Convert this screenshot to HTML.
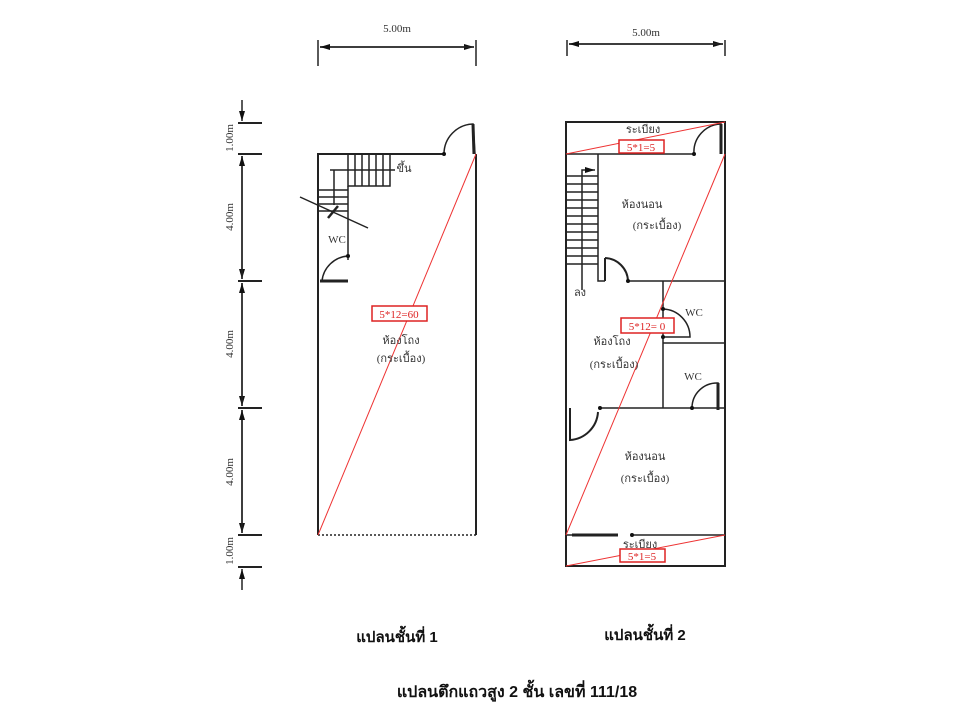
<!DOCTYPE html>
<html><head><meta charset="utf-8"><style>
html,body{margin:0;padding:0;background:#fff;width:960px;height:720px;overflow:hidden}
svg{display:block}
text{font-family:"Liberation Serif","DejaVu Serif",serif;fill:#333}
.b{font-family:"Liberation Sans","DejaVu Sans",sans-serif;font-weight:bold;fill:#111}
</style></head><body>
<svg width="960" height="720" viewBox="0 0 960 720" xmlns="http://www.w3.org/2000/svg">
<defs>
<marker id="a" markerWidth="10" markerHeight="6" refX="10" refY="3" orient="auto" markerUnits="userSpaceOnUse"><path d="M0,0 L10,3 L0,6z" fill="#111"/></marker>
</defs>
<g stroke="#222" stroke-width="1.5" fill="none">
<line x1="318" y1="40" x2="318" y2="66"/><line x1="476" y1="40" x2="476" y2="66"/>
<line x1="320" y1="47" x2="474" y2="47" marker-end="url(#a)"/>
<line x1="474" y1="47" x2="320" y2="47" marker-end="url(#a)"/>
<line x1="567" y1="40" x2="567" y2="56"/><line x1="725" y1="40" x2="725" y2="56"/>
<line x1="569" y1="44" x2="723" y2="44" marker-end="url(#a)"/>
<line x1="723" y1="44" x2="569" y2="44" marker-end="url(#a)"/>
<g stroke-width="2">
<line x1="238" y1="123" x2="262" y2="123"/><line x1="238" y1="154" x2="262" y2="154"/>
<line x1="238" y1="281" x2="262" y2="281"/><line x1="238" y1="408" x2="262" y2="408"/>
<line x1="238" y1="535" x2="262" y2="535"/><line x1="238" y1="567" x2="262" y2="567"/>
</g>
<line x1="242" y1="100" x2="242" y2="121" marker-end="url(#a)"/>
<line x1="242" y1="156" x2="242" y2="279" marker-end="url(#a)"/><line x1="242" y1="279" x2="242" y2="156" marker-end="url(#a)"/>
<line x1="242" y1="283" x2="242" y2="406" marker-end="url(#a)"/><line x1="242" y1="406" x2="242" y2="283" marker-end="url(#a)"/>
<line x1="242" y1="410" x2="242" y2="533" marker-end="url(#a)"/><line x1="242" y1="533" x2="242" y2="410" marker-end="url(#a)"/>
<line x1="242" y1="590" x2="242" y2="569" marker-end="url(#a)"/>
<path d="M444,154 L318,154 L318,535 M476,154 L476,535" stroke-width="2"/>
<line x1="318" y1="535" x2="476" y2="535" stroke-dasharray="2,2"/>
<path d="M444,154 A30,30 0 0 1 473,124 L475,154" stroke-width="1.5"/>
<line x1="473" y1="124" x2="474" y2="154" stroke-width="3"/>
<path d="M348,154 V186 H390 V154"/>
<path d="M355,154V186M362,154V186M369,154V186M376,154V186M383,154V186"/>
<path d="M318,190H348M318,197H348M318,204H348M318,211H348"/>
<path d="M348,186 V260 M330,170 H395 M334,170 V205"/>
<line x1="300" y1="197" x2="368" y2="228"/>
<line x1="328" y1="218" x2="338" y2="206" stroke-width="2.5"/>
<path d="M348,256 A28,28 0 0 0 322,281" />
<path d="M320,281 H348" stroke-width="3"/>
<rect x="566" y="122" width="159" height="444" stroke-width="2"/>
<path d="M566,154 H694 M598,154 V281 H605 M628,281 H725 M663,281 V408 M663,343 H725 M600,408 H725 M566,535 H580 M632,535 H725" stroke-width="1.5"/>
<path d="M694,154 A28,28 0 0 1 721,124 V154" /><line x1="721" y1="124" x2="721" y2="154" stroke-width="3"/>
<path d="M605,258 V281 M605,258 A24,24 0 0 1 628,281" stroke-width="2"/>
<path d="M663,309 A28,28 0 0 1 690,337 H663" stroke-width="1.5"/>
<path d="M692,408 A25,25 0 0 1 718,383 V408" /><line x1="718" y1="383" x2="718" y2="410" stroke-width="3"/>
<path d="M570,408 V440 A30,30 0 0 0 598,412" stroke-width="2"/>
<path d="M572,535 H618" stroke-width="3"/>
<path d="M566,176H598M566,184H598M566,192H598M566,200H598M566,208H598M566,216H598M566,224H598M566,232H598M566,240H598M566,248H598M566,256H598M566,264H598"/>
<path d="M582,290 V170 H595" marker-end="url(#a)"/>
</g>
<g fill="#111">
<circle cx="444" cy="154" r="2"/><circle cx="348" cy="256" r="2"/><circle cx="694" cy="154" r="2"/><circle cx="628" cy="281" r="2"/><circle cx="663" cy="309" r="2"/><circle cx="663" cy="337" r="2"/><circle cx="692" cy="408" r="2"/><circle cx="600" cy="408" r="2"/><circle cx="632" cy="535" r="2"/>
</g>
<g stroke="#e33" stroke-width="1" fill="none">
<line x1="318" y1="535" x2="476" y2="154"/>
<line x1="566" y1="154" x2="725" y2="122"/>
<line x1="566" y1="535" x2="725" y2="154"/>
<line x1="566" y1="566" x2="725" y2="535"/>
</g>
<g stroke="#d22" stroke-width="1.5" fill="#fff">
<rect x="372" y="306" width="55" height="15"/>
<rect x="619" y="140" width="45" height="13"/>
<rect x="621" y="318" width="53" height="15"/>
<rect x="620" y="549" width="45" height="13"/>
</g>
<g font-size="11" text-anchor="middle">
<text x="399" y="318" style="fill:#d22">5*12=60</text>
<text x="641" y="151" style="fill:#d22">5*1=5</text>
<text x="647" y="330" style="fill:#d22">5*12= 0</text>
<text x="642" y="560" style="fill:#d22">5*1=5</text>
<text x="397" y="32">5.00m</text>
<text x="646" y="36">5.00m</text>
<text x="337" y="243">WC</text>
<text x="694" y="316">WC</text>
<text x="693" y="380">WC</text>
<text x="401" y="344">ห้องโถง</text>
<text x="401" y="362">(กระเบื้อง)</text>
<text x="642" y="208">ห้องนอน</text>
<text x="657" y="229">(กระเบื้อง)</text>
<text x="612" y="345">ห้องโถง</text>
<text x="614" y="368">(กระเบื้อง)</text>
<text x="645" y="460">ห้องนอน</text>
<text x="645" y="482">(กระเบื้อง)</text>
<text x="643" y="133">ระเบียง</text>
<text x="640" y="548">ระเบียง</text>
<text x="404" y="172">ขึ้น</text>
<text x="580" y="296">ลง</text>
</g>
<g font-size="11" text-anchor="middle">
<text transform="translate(233,138) rotate(-90)">1.00m</text>
<text transform="translate(233,217) rotate(-90)">4.00m</text>
<text transform="translate(233,344) rotate(-90)">4.00m</text>
<text transform="translate(233,472) rotate(-90)">4.00m</text>
<text transform="translate(233,551) rotate(-90)">1.00m</text>
</g>
<text class="b" x="397" y="642" font-size="15" text-anchor="middle">แปลนชั้นที่ 1</text>
<text class="b" x="645" y="640" font-size="15" text-anchor="middle">แปลนชั้นที่ 2</text>
<text class="b" x="517" y="697" font-size="16" text-anchor="middle">แปลนตึกแถวสูง 2 ชั้น เลขที่ 111/18</text>
</svg>
</body></html>
